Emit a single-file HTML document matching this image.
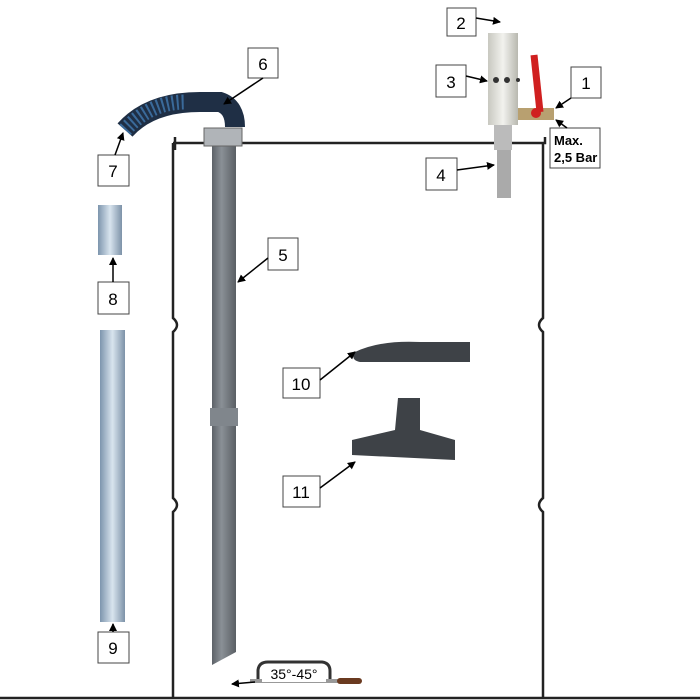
<!DOCTYPE html>
<html><head><style>body{margin:0;background:#fff}svg{display:block}text{font-family:"Liberation Sans",sans-serif}</style></head><body>
<svg width="700" height="700" viewBox="0 0 700 700">
<defs>
<marker id="a" markerWidth="8" markerHeight="8" refX="7" refY="4" orient="auto" markerUnits="userSpaceOnUse"><path d="M0,0 L8,4 L0,8z" fill="#000"/></marker>
<linearGradient id="g" x1="0" x2="1"><stop offset="0" stop-color="#5d6268"/><stop offset=".4" stop-color="#8a9096"/><stop offset="1" stop-color="#5a5f64"/></linearGradient>
<linearGradient id="b" x1="0" x2="1"><stop offset="0" stop-color="#7d95ad"/><stop offset=".5" stop-color="#d8e4ee"/><stop offset="1" stop-color="#7d92a8"/></linearGradient>
<linearGradient id="w" x1="0" x2="1"><stop offset="0" stop-color="#c8c8c0"/><stop offset=".5" stop-color="#f2f2ee"/><stop offset="1" stop-color="#b8b8b0"/></linearGradient>
</defs>
<g fill="none" stroke="#222" stroke-width="2.5">
<path d="M175,150 L175,137 M173,143 L545,143 L545,137 M173,143 L173,318 q8,7 0,14 L173,498 q8,7 0,14 L173,697"/>
<path d="M543,143 L543,318 q-8,7 0,14 L543,498 q-8,7 0,14 L543,697"/>
<path d="M0,698 L700,698"/>
</g>
<rect x="212" y="145" width="24" height="520" fill="url(#g)"/>
<path d="M212,665 L236,652 L236,665z" fill="#fff"/>
<rect x="204" y="128" width="38" height="18" fill="#b0b4b8" stroke="#666"/>
<rect x="210" y="408" width="28" height="18" fill="#80868c"/>
<path d="M125,130 Q150,102 200,102 L220,102 Q235,107 235,127" fill="none" stroke="#1f2f45" stroke-width="20"/>
<path d="M125,130 Q150,102 185,102" fill="none" stroke="#3a6a9a" stroke-width="15" stroke-dasharray="2 3"/>
<rect x="98" y="205" width="24" height="50" fill="url(#b)"/>
<rect x="100" y="330" width="25" height="292" fill="url(#b)"/>
<rect x="488" y="33" width="30" height="92" fill="url(#w)"/>
<rect x="494" y="125" width="18" height="25" fill="#bbb"/>
<rect x="497" y="150" width="14" height="48" fill="#aaa"/>
<circle cx="496" cy="80" r="3" fill="#333"/><circle cx="507" cy="80" r="3" fill="#333"/><circle cx="518" cy="80" r="2" fill="#333"/>
<rect x="518" y="108" width="36" height="12" fill="#b8a070"/>
<path d="M534,55 L540,112" stroke="#d02020" stroke-width="7"/>
<circle cx="536" cy="113" r="5" fill="#d02020"/>
<path d="M355,352 Q380,340 420,342 L470,342 L470,362 L360,362 Q350,360 355,352z" fill="#3e4247"/>
<path d="M398,398 L420,398 L420,430 L455,440 L455,460 L352,455 L352,440 L395,430z" fill="#3e4247"/>
<path d="M258,680 L258,670 Q259,662 268,662 L322,662 Q330,663 330,671 L330,680" fill="none" stroke="#333" stroke-width="3"/>
<rect x="250" y="679" width="95" height="4" fill="#999"/>
<rect x="337" y="678" width="25" height="6" rx="3" fill="#6a3a20"/>
<rect x="262" y="666" width="64" height="16" fill="#fff"/>
<text x="294" y="679" font-size="14" text-anchor="middle">35°-45°</text>
<g fill="#fff" stroke="#444" stroke-width="1">
<rect x="447" y="8" width="29" height="28"/><rect x="436" y="65" width="30" height="32"/><rect x="571" y="67" width="30" height="31"/>
<rect x="550" y="128" width="50" height="40"/><rect x="426" y="158" width="31" height="32"/><rect x="248" y="48" width="30" height="30"/>
<rect x="98" y="155" width="31" height="31"/><rect x="268" y="238" width="30" height="32"/><rect x="98" y="282" width="31" height="32"/>
<rect x="98" y="632" width="31" height="31"/><rect x="283" y="368" width="37" height="30"/><rect x="283" y="476" width="37" height="31"/>
</g>
<g font-size="17" text-anchor="middle">
<text x="461" y="29">2</text><text x="451" y="88">3</text><text x="586" y="89">1</text><text x="441" y="181">4</text>
<text x="263" y="70">6</text><text x="113" y="177">7</text><text x="283" y="261">5</text><text x="113" y="305">8</text>
<text x="113" y="654">9</text><text x="301" y="390">10</text><text x="301" y="498">11</text>
</g>
<text x="554" y="145" font-size="13" font-weight="bold">Max.</text>
<text x="554" y="162" font-size="13" font-weight="bold">2,5 Bar</text>
<g stroke="#000" stroke-width="1.5" marker-end="url(#a)">
<line x1="476" y1="18" x2="500" y2="22"/><line x1="466" y1="76" x2="487" y2="81"/><line x1="571" y1="98" x2="556" y2="108"/>
<line x1="567" y1="128" x2="556" y2="120"/><line x1="457" y1="170" x2="494" y2="165"/><line x1="263" y1="78" x2="224" y2="104"/>
<line x1="115" y1="155" x2="123" y2="133"/><line x1="268" y1="258" x2="238" y2="282"/><line x1="113" y1="282" x2="113" y2="258"/>
<line x1="113" y1="632" x2="113" y2="624"/><line x1="320" y1="380" x2="355" y2="352"/><line x1="320" y1="488" x2="355" y2="462"/>
<line x1="255" y1="682" x2="232" y2="684"/>
</g>
</svg>
</body></html>
